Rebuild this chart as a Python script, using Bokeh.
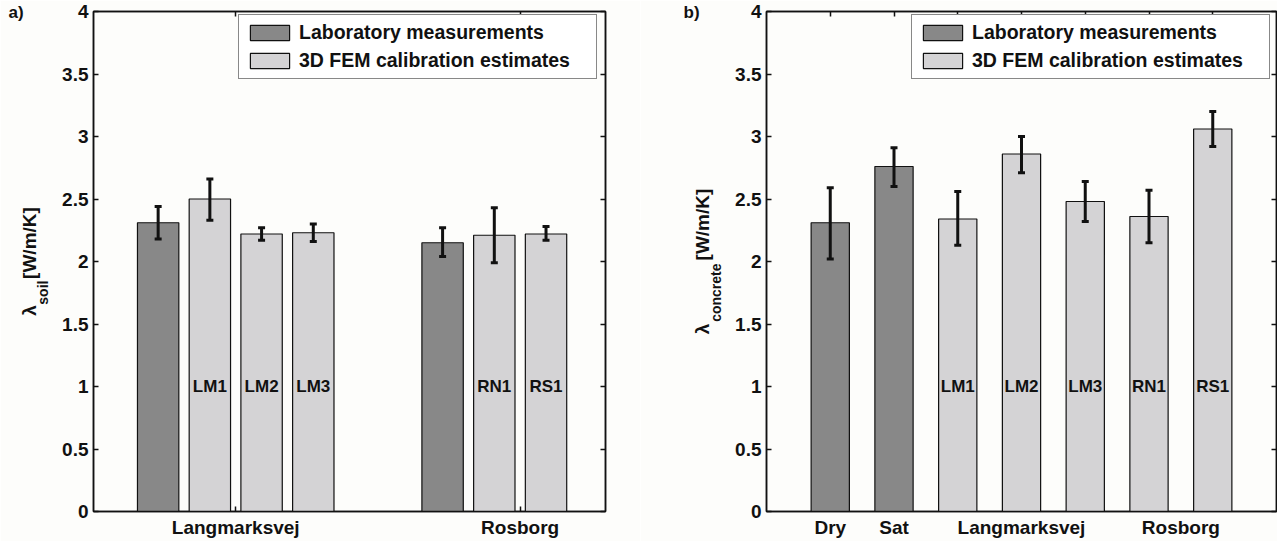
from bokeh.plotting import figure
from bokeh.models import (Range1d, FixedTicker, LinearAxis, ColumnDataSource, Whisker,
                          TeeHead, Legend, LegendItem, CustomJSTickFormatter, Title)
from bokeh.layouts import row
from bokeh.embed import file_html
from bokeh.resources import INLINE
from bokeh.core.properties import value

# ---------------- data ----------------
y_ticks = [0, 0.5, 1, 1.5, 2, 2.5, 3, 3.5, 4]

# panel a) soil
a_sites = ["Langmarksvej", "Rosborg"]
a_site_pos = [1, 2]
a_lab_val = [2.31, 2.15]
a_lab_lo = [2.18, 2.04]
a_lab_hi = [2.44, 2.27]
a_fem_names = ["LM1", "LM2", "LM3", "RN1", "RS1"]
a_fem_site = [1, 1, 1, 2, 2]
a_fem_slot = [1, 2, 3, 1, 2]
a_fem_val = [2.50, 2.22, 2.23, 2.21, 2.22]
a_fem_lo = [2.33, 2.17, 2.16, 1.99, 2.17]
a_fem_hi = [2.66, 2.27, 2.30, 2.43, 2.28]

# panel b) concrete
b_names = ["Dry", "Sat", "LM1", "LM2", "LM3", "RN1", "RS1"]
b_is_lab = [True, True, False, False, False, False, False]
b_val = [2.31, 2.76, 2.34, 2.86, 2.48, 2.36, 3.06]
b_lo = [2.02, 2.60, 2.13, 2.71, 2.32, 2.15, 2.92]
b_hi = [2.59, 2.91, 2.56, 3.00, 2.64, 2.57, 3.20]
b_group_labels = ["Dry", "Sat", "Langmarksvej", "Rosborg"]
b_group_pos = [1, 2, 4, 6.5]

legend_labels = ["Laboratory measurements", "3D FEM calibration estimates"]
panel_tags = ["a)", "b)"]
y_label_main = "[W/m/K]"
y_label_sub = ["soil", "concrete"]

# ---------------- style ----------------
FONT = "Liberation Sans"
DARK = "#888888"
LIGHT = "#d4d3d5"
BG = "#fdfdfb"
INK = "#111111"
NBSP = "\u00a0"
H = 541
TOP = 11
FRAME_H = 500


def styled_axis(ticks, fmt, show, tick_in=5):
    ax = LinearAxis(ticker=FixedTicker(ticks=ticks), formatter=fmt)
    ax.major_tick_in = tick_in
    ax.major_tick_out = 0
    ax.minor_tick_line_color = None
    ax.axis_line_color = INK
    ax.axis_line_width = 1.5
    ax.major_tick_line_color = INK
    ax.major_tick_line_width = 1.5
    ax.major_label_text_font = FONT
    ax.major_label_text_font_style = "bold"
    ax.major_label_text_color = INK
    if show:
        ax.major_label_text_font_size = "19px"
        ax.major_label_standoff = 5
    else:
        ax.major_label_text_font_size = "1px"
        ax.major_label_standoff = 0
    return ax


def make_fig(width, mbl, mbr, x0, x1, top_ticks, bot_ticks, bot_labels, bot_tick_in,
             sub, gap, tag, tag_offset):
    p = figure(width=width, height=H, x_range=Range1d(x0, x1), y_range=Range1d(0, 4),
               output_backend="svg", toolbar_location=None,
               x_axis_location=None, y_axis_location=None,
               min_border_left=mbl, min_border_right=mbr,
               min_border_top=TOP, min_border_bottom=H - TOP - FRAME_H)
    p.grid.visible = False
    p.background_fill_color = BG
    p.border_fill_color = BG
    p.outline_line_color = INK
    p.outline_line_width = 1.5

    yfmt = CustomJSTickFormatter(code="return String(tick);")
    blank = CustomJSTickFormatter(code="return '';")
    xfmt = CustomJSTickFormatter(args=dict(pos=bot_ticks, labs=bot_labels),
                                 code="const i = pos.indexOf(tick); return i >= 0 ? labs[i] : '';")

    left = styled_axis(y_ticks, yfmt, True)
    # subscript of the y label, pushed toward the lambda with no-break spaces
    left.axis_label = sub + NBSP * 16
    left.axis_label_text_font = FONT
    left.axis_label_text_font_style = "bold"
    left.axis_label_text_font_size = "14px"
    left.axis_label_text_color = INK
    left.axis_label_standoff = 8
    p.add_layout(left, "left")

    ylab = Title(text="λ" + NBSP * gap + y_label_main, align="center",
                 text_font=FONT, text_font_style="bold", text_font_size="19px",
                 text_color=INK, standoff=-14)
    p.add_layout(ylab, "left")

    p.add_layout(styled_axis(y_ticks, blank, False), "right")
    bottom = styled_axis(bot_ticks, xfmt, True, tick_in=bot_tick_in)
    p.add_layout(bottom, "below")
    p.add_layout(styled_axis(top_ticks, blank, False), "above")

    t = Title(text=tag, align="left", offset=tag_offset, text_font=FONT,
              text_font_style="bold", text_font_size="17px", text_color=INK, standoff=-20)
    p.add_layout(t, "above")
    return p


def add_whisker(p, xs, lo, hi):
    src = ColumnDataSource(dict(x=xs, lo=lo, hi=hi))
    w = Whisker(source=src, base="x", lower="lo", upper="hi", line_width=3, line_color=INK,
                lower_head=TeeHead(size=7, line_width=3, line_color=INK),
                upper_head=TeeHead(size=7, line_width=3, line_color=INK))
    w.level = "overlay"
    p.add_layout(w)


def add_legend(p, r_lab, r_fem):
    leg = Legend(items=[LegendItem(label=legend_labels[0], renderers=[r_lab]),
                        LegendItem(label=legend_labels[1], renderers=[r_fem])],
                 location=(145, 432))
    leg.margin = 0
    leg.padding = 6
    leg.spacing = 5
    leg.glyph_width = 49
    leg.glyph_height = 19
    leg.label_height = 19
    leg.label_width = 291
    leg.label_standoff = 5
    leg.label_text_font = FONT
    leg.label_text_font_style = "bold"
    leg.label_text_font_size = "19.5px"
    leg.label_text_color = INK
    leg.border_line_color = INK
    leg.border_line_width = 1.5
    leg.background_fill_color = "white"
    leg.background_fill_alpha = 1.0
    p.add_layout(leg, "center")


def bar_text(p, xs, names):
    p.text(x=xs, y=[1.0] * len(xs), text=names,
           text_font=value(FONT), text_font_style="bold", text_font_size=value("17px"),
           text_align="center", text_baseline="middle", text_color=INK)


# ---------------- panel a ----------------
ngroup = 4
slot_w = (ngroup / (ngroup + 1.5)) / ngroup
bar_w_a = slot_w * 0.8


def slot_x(site, slot):
    return site + (slot - (ngroup - 1) / 2) * slot_w


a_lab_x = [slot_x(s, 0) for s in a_site_pos]
a_fem_x = [slot_x(s, k) for s, k in zip(a_fem_site, a_fem_slot)]

p1 = make_fig(640, 93, 35, 0.5, 2.3, a_site_pos, a_site_pos, a_sites, 5,
              y_label_sub[0], 5, panel_tags[0], -85)
r1_lab = p1.vbar(x=a_lab_x, top=a_lab_val, width=bar_w_a, fill_color=DARK,
                 line_color=INK, line_width=1.2)
r1_fem = p1.vbar(x=a_fem_x, top=a_fem_val, width=bar_w_a, fill_color=LIGHT,
                 line_color=INK, line_width=1.2)
add_whisker(p1, a_lab_x + a_fem_x, a_lab_lo + a_fem_lo, a_lab_hi + a_fem_hi)
bar_text(p1, a_fem_x, a_fem_names)
add_legend(p1, r1_lab, r1_fem)

# ---------------- panel b ----------------
b_x = list(range(1, len(b_names) + 1))
b_lab_x = [x for x, l in zip(b_x, b_is_lab) if l]
b_lab_v = [v for v, l in zip(b_val, b_is_lab) if l]
b_fem_x = [x for x, l in zip(b_x, b_is_lab) if not l]
b_fem_v = [v for v, l in zip(b_val, b_is_lab) if not l]
b_fem_names = [n for n, l in zip(b_names, b_is_lab) if not l]

p2 = make_fig(637, 126, 1, 0, 8, b_x, b_group_pos, b_group_labels, 0,
              y_label_sub[1], 12, panel_tags[1], -83)
r2_lab = p2.vbar(x=b_lab_x, top=b_lab_v, width=0.6, fill_color=DARK,
                 line_color=INK, line_width=1.2)
r2_fem = p2.vbar(x=b_fem_x, top=b_fem_v, width=0.6, fill_color=LIGHT,
                 line_color=INK, line_width=1.2)
add_whisker(p2, b_x, b_lo, b_hi)
bar_text(p2, b_fem_x, b_fem_names)
add_legend(p2, r2_lab, r2_fem)

layout = row(p1, p2)
open("out.html", "w").write(file_html(layout, INLINE))
